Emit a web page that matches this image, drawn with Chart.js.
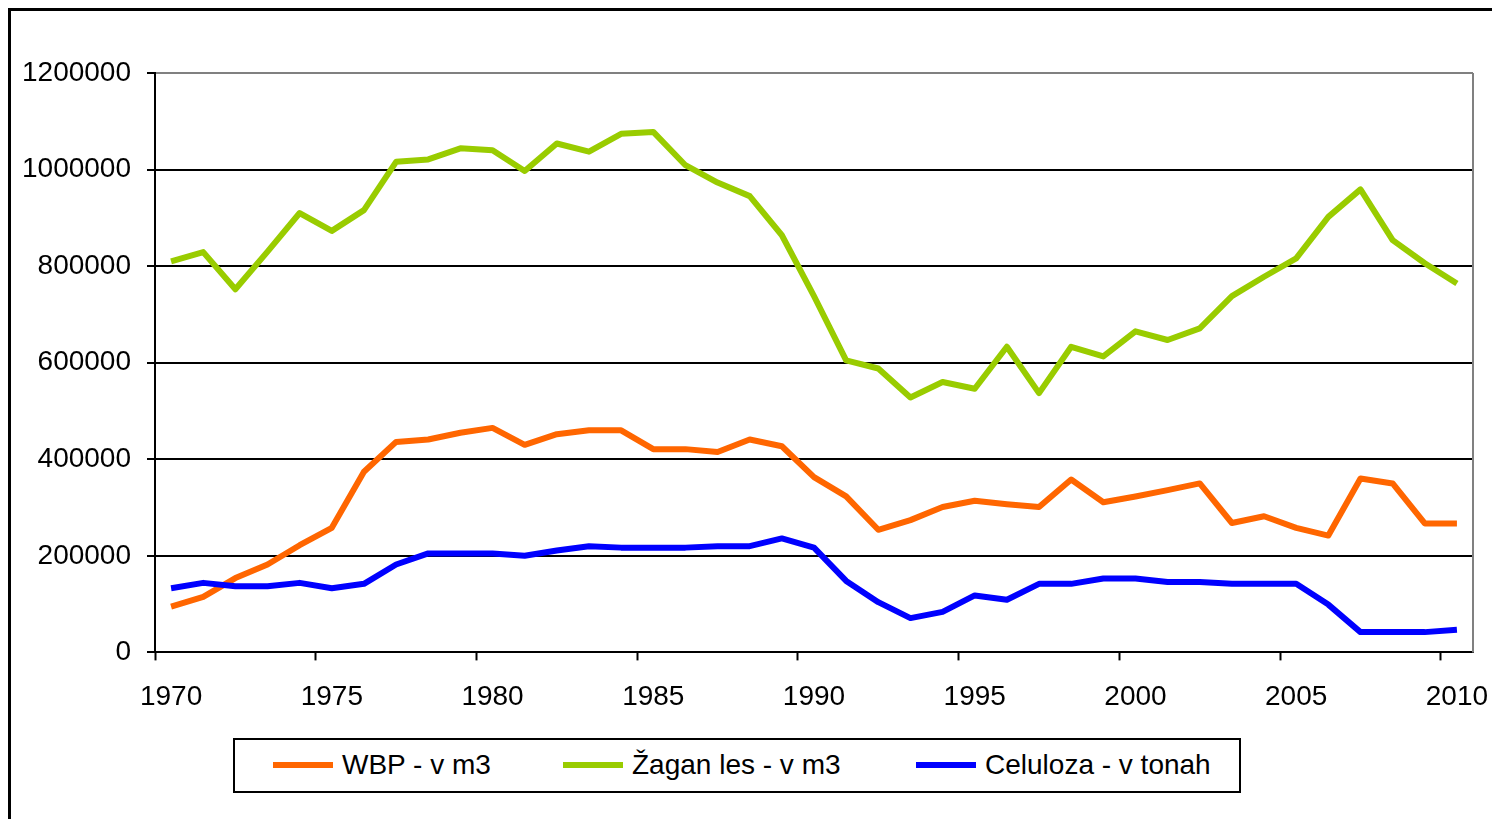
<!DOCTYPE html>
<html><head><meta charset="utf-8">
<script src="https://cdn.jsdelivr.net/npm/chart.js@4/dist/chart.umd.min.js"></script>
<style>
html,body{margin:0;padding:0;background:#fff;overflow:hidden;}
#wrap{position:relative;width:1492px;height:819px;overflow:hidden;}
#frame{position:absolute;left:8px;top:8px;width:1500px;height:830px;border:3px solid #000;box-sizing:border-box;}
#cv{position:absolute;left:0;top:0;}
#legend{position:absolute;left:233px;top:738px;width:1008px;height:55px;border:2px solid #000;box-sizing:border-box;font-family:"Liberation Sans",Arial,sans-serif;font-size:28px;color:#000;background:#fff;}
.item{position:absolute;top:0;height:49px;display:flex;align-items:center;white-space:nowrap;}
.sw{width:60px;height:6px;margin-right:9px;}
</style></head>
<body>
<div id="wrap">
<div id="frame"></div>
<canvas id="cv" width="1492" height="819"></canvas>
<div id="legend"></div>
</div>
<script>
const years = [];
for (let y = 1970; y <= 2010; y++) years.push(String(y));
const xTickLabels = ['1970','1975','1980','1985','1990','1995','2000','2005','2010'];

const seriesNames = ['WBP - v m3', 'Žagan les - v m3', 'Celuloza - v tonah'];
const seriesColors = ['#FF6600', '#99CC00', '#0000FF'];

const wbp = [95000,115000,154000,182000,222000,258000,374000,436000,441000,455000,
  465000,430000,452000,460000,460000,421000,421000,415000,441000,427000,
  363000,323000,254000,274000,301000,314000,307000,301000,358000,311000,
  323000,336000,350000,268000,282000,258000,242000,360000,350000,267000,267000];
const zagan = [810000,829000,752000,830000,910000,873000,916000,1016000,1021000,1044000,
  1040000,997000,1054000,1037000,1074000,1078000,1009000,973000,945000,864000,
  738000,605000,588000,528000,560000,546000,633000,537000,633000,613000,
  665000,647000,671000,738000,778000,816000,902000,959000,854000,806000,764000];
const celuloza = [133000,144000,137000,137000,144000,133000,142000,182000,205000,205000,
  205000,200000,211000,220000,217000,217000,217000,220000,220000,236000,
  217000,148000,104000,71000,84000,118000,109000,142000,142000,153000,
  153000,146000,146000,142000,142000,142000,99000,42000,42000,42000,47000];

const yTicks = [0,200000,400000,600000,800000,1000000,1200000];

const FONT = '"Liberation Sans", Arial, sans-serif';

const framePlugin = {
  id: 'framePlugin',
  beforeDatasetsDraw(chart) {
    const a = chart.chartArea, c = chart.ctx;
    c.save();
    c.strokeStyle = '#808080';
    c.lineWidth = 2;
    c.beginPath();
    c.moveTo(a.right, a.top);
    c.lineTo(a.right, a.bottom);
    c.stroke();
    c.restore();
  }
};

const allSeries = [wbp, zagan, celuloza];
new Chart(document.getElementById('cv'), {
  type: 'line',
  data: {
    labels: years,
    datasets: allSeries.map((d, i) => ({
      label: seriesNames[i],
      data: d,
      borderColor: seriesColors[i],
      backgroundColor: seriesColors[i],
      borderWidth: 6,
      pointRadius: 0,
      tension: 0,
      fill: false,
      borderJoinStyle: 'round',
      order: 2 - i
    }))
  },
  options: {
    responsive: false,
    animation: false,
    devicePixelRatio: 1,
    layout: { padding: { left: 6, top: 73, right: 19, bottom: 85 } },
    plugins: { legend: { display: false }, tooltip: { enabled: false } },
    scales: {
      x: {
        offset: true,
        afterFit: axis => { axis.paddingRight = 0; axis.paddingLeft = 0; },
        grid: {
          offset: true,
          drawOnChartArea: false,
          tickLength: 8,
          tickWidth: 2,
          color: '#000',
          tickColor: ctx => (ctx.index % 5 === 0 ? '#000' : 'rgba(0,0,0,0)')
        },
        border: { display: true, color: '#000', width: 2 },
        ticks: {
          autoSkip: false,
          maxRotation: 0,
          minRotation: 0,
          padding: 20,
          color: '#000',
          font: { family: FONT, size: 28 },
          callback: (v, i) => (xTickLabels.includes(years[i]) ? years[i] : '')
        }
      },
      y: {
        min: 0,
        max: 1200000,
        afterBuildTicks: axis => { axis.ticks = yTicks.map(v => ({ value: v })); },
        grid: {
          color: ctx => (ctx.tick && ctx.tick.value === 1200000 ? '#808080' : '#000'),
          lineWidth: 2,
          tickLength: 8,
          tickColor: '#000',
          tickWidth: 2
        },
        border: { display: true, color: '#000', width: 2 },
        ticks: {
          padding: 16,
          color: '#000',
          font: { family: FONT, size: 28 },
          callback: v => String(v)
        }
      }
    }
  },
  plugins: [framePlugin]
});

const lg = document.getElementById('legend');
const itemLeft = [38, 328, 681];
seriesNames.forEach((n, i) => {
  const it = document.createElement('div');
  it.className = 'item';
  it.style.left = itemLeft[i] + 'px';
  const sw = document.createElement('span');
  sw.className = 'sw';
  sw.style.background = seriesColors[i];
  const tx = document.createElement('span');
  tx.textContent = n;
  it.appendChild(sw);
  it.appendChild(tx);
  lg.appendChild(it);
});
</script>
</body></html>
